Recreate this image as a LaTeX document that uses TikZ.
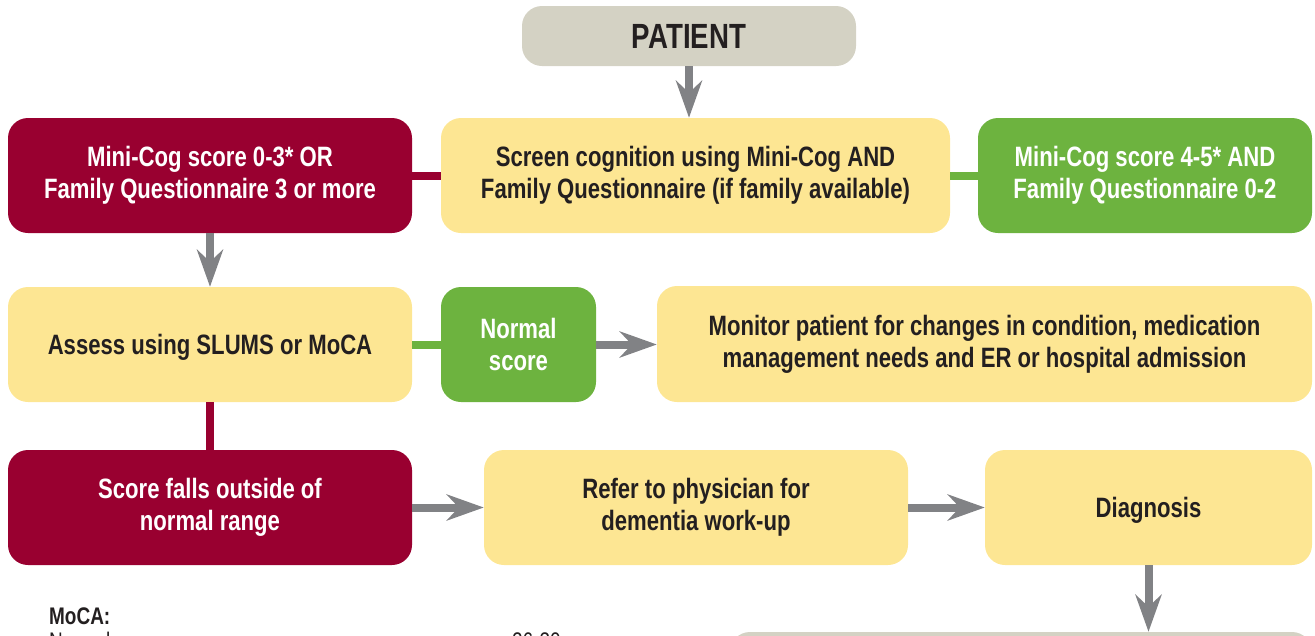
\documentclass[tikz,border=0pt]{standalone}
\usepackage{fontspec}
\setmainfont[FakeStretch=0.79]{Liberation Sans}
\usetikzlibrary{arrows.meta}
\definecolor{crim}{HTML}{990030}
\definecolor{ylw}{HTML}{FDE693}
\definecolor{grn}{HTML}{6DB33F}
\definecolor{beige}{HTML}{D4D2C4}
\definecolor{arr}{HTML}{818285}
\definecolor{ink}{HTML}{231F20}
\tikzset{
  box/.style={rounded corners=20pt, align=center, inner sep=0pt,
    font=\fontsize{28}{32}\selectfont\bfseries},
  redbox/.style={box, fill=crim, text=white},
  ylwbox/.style={box, fill=ylw, text=ink},
  grnbox/.style={box, fill=grn, text=white},
  gbox/.style={box, fill=beige, text=ink},
  oneline/.style={text depth=0pt},
  flow/.style={draw=arr, line width=8pt, -{Stealth[length=37pt,width=26pt,inset=12pt]}},
  redlink/.style={draw=crim, line width=8pt},
  grnlink/.style={draw=grn, line width=8pt},
  note/.style={font=\fontsize{24}{28}\selectfont, text=ink, inner sep=0pt, anchor=base west}
}
\begin{document}
\begin{tikzpicture}[x=1pt,y=-1pt]
\useasboundingbox (0,0) rectangle (1315,635);
\clip (0,0) rectangle (1315,635);
\node[gbox, oneline, minimum width=334pt, minimum height=60pt, font=\fontsize{35}{40}\selectfont\bfseries] (patient) at (689,36) {PATIENT};
\node[redbox, minimum width=404pt, minimum height=115pt] (red1) at (210,175.5) {Mini-Cog score 0-3* OR\\Family Questionnaire 3 or more};
\node[ylwbox, minimum width=509pt, minimum height=115pt] (screen) at (695.5,175.5) {Screen cognition using Mini-Cog AND\\Family Questionnaire (if family available)};
\node[grnbox, minimum width=334pt, minimum height=115pt] (grn1) at (1145,175.5) {Mini-Cog score 4-5* AND\\Family Questionnaire 0-2};
\node[ylwbox, oneline, minimum width=404pt, minimum height=115pt] (assess) at (210,344.5) {Assess using SLUMS or MoCA};
\node[grnbox, minimum width=155pt, minimum height=115pt] (normal) at (518.5,344.5) {Normal\\score};
\node[ylwbox, minimum width=655pt, minimum height=116pt] (monitor) at (984.5,344) {Monitor patient for changes in condition, medication\\management needs and ER or hospital admission};
\node[redbox, minimum width=404pt, minimum height=115pt] (score) at (210,507.5) {Score falls outside of\\normal range};
\node[ylwbox, minimum width=424pt, minimum height=115pt] (refer) at (696,507.5) {Refer to physician for\\dementia work-up};
\node[ylwbox, oneline, minimum width=327pt, minimum height=115pt] (diag) at (1148.5,507.5) {Diagnosis};
\node[gbox, minimum width=582pt, minimum height=120pt] (bottom) at (1021,692) {};
\draw[flow] (patient.south) -- (patient.south |- screen.north);
\draw[redlink] (red1.east) -- (screen.west);
\draw[grnlink] (screen.east) -- (grn1.west);
\draw[flow] (red1.south) -- (assess.north);
\draw[grnlink] (assess.east) -- (normal.west);
\draw[flow] (normal.east) -- (normal.east -| monitor.west);
\draw[redlink] (assess.south) -- (score.north);
\draw[flow] (score.east) -- (refer.west);
\draw[flow] (refer.east) -- (diag.west);
\draw[flow] (diag.south) -- (diag.south |- bottom.north);
\node[note, font=\fontsize{24}{28}\selectfont\bfseries] (moca) at (49,624) {MoCA:};
\node[note] (normtxt) at (49,649) {Normal};
\node[note] (range) at (512,649) {26-30};
\end{tikzpicture}
\end{document}
